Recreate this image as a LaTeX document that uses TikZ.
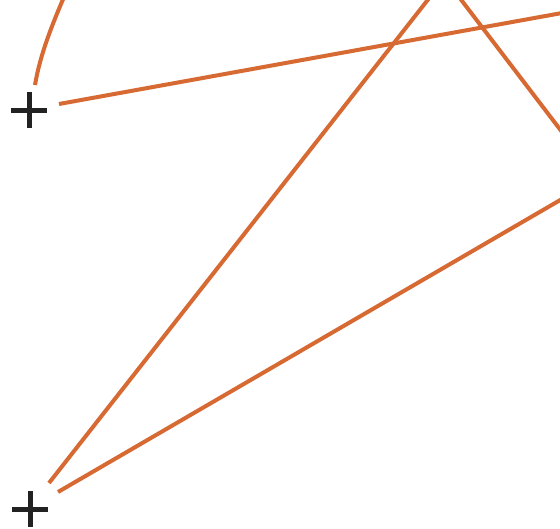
\documentclass[tikz,border=0pt]{standalone}
\definecolor{lineorange}{RGB}{215,105,50}
\definecolor{plusgray}{RGB}{34,34,34}
\tikzset{
  orangeline/.style={draw=lineorange, line width=4pt},
  plusbar/.style={draw=plusgray, line width=5pt}
}
\begin{document}
\begin{tikzpicture}[x=1pt,y=-1pt]
\useasboundingbox (0,0) rectangle (560,528);
% plus signs
\coordinate (p1) at (29,110);
\coordinate (p2) at (30,509);
\draw[plusbar] ([xshift=-18pt]p1) -- ([xshift=18pt]p1);
\draw[plusbar] ([yshift=-18pt]p1) -- ([yshift=18pt]p1);
\draw[plusbar] ([xshift=-18pt]p2) -- ([xshift=18pt]p2);
\draw[plusbar] ([yshift=-18pt]p2) -- ([yshift=18pt]p2);
% end points
\coordinate (c1) at (64,-3);
\coordinate (c2) at (35,85);
\coordinate (a1) at (59,104);
\coordinate (a2) at (562,13);
\coordinate (b1) at (49,483);
\coordinate (b2) at (430,-3);
\coordinate (d1) at (58,492);
\coordinate (d2) at (562,199);
\coordinate (e1) at (459,-3);
\coordinate (e2) at (562,132);
% lines
\draw[orangeline] (c1) .. controls (52,25) and (40,55) .. (c2);
\draw[orangeline] (a1) -- (a2);
\draw[orangeline] (b1) -- (b2);
\draw[orangeline] (d1) -- (d2);
\draw[orangeline] (e1) -- (e2);
\end{tikzpicture}
\end{document}
